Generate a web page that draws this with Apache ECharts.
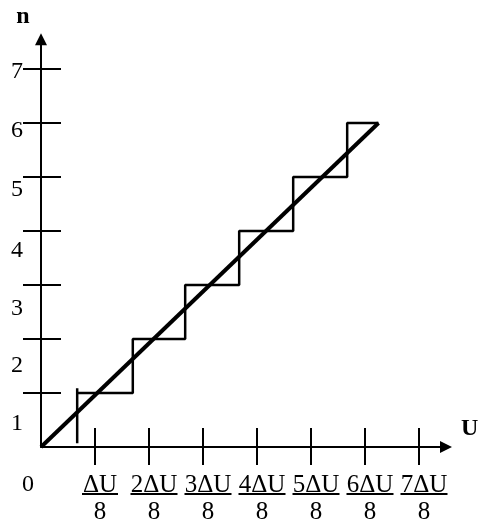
<!DOCTYPE html>
<html>
<head>
<meta charset="utf-8">
<script src="https://cdn.jsdelivr.net/npm/echarts@6/dist/echarts.min.js"></script>
<style>
  html, body { margin: 0; padding: 0; background: #fff; }
  #chart { width: 478px; height: 527px; }
</style>
</head>
<body>
<div id="chart"></div>
<script>
// Axis ticks and their labels
const uTicks = [1, 2, 3, 4, 5, 6, 7];
const uNumerators = ['ΔU', '2ΔU', '3ΔU', '4ΔU', '5ΔU', '6ΔU', '7ΔU'];
const uDenominator = '8';
const nTicks = [1, 2, 3, 4, 5, 6, 7];
const nLabels = ['1', '2', '3', '4', '5', '6', '7'];

// Quantizer staircase: U value where n steps up, and the level reached
const riseAt = [0.67, 1.70, 2.67, 3.67, 4.67, 5.67];
const levels = [1, 2, 3, 4, 5, 6];
const stairEnd = 6.25;
const firstRiser = [0.07, 1.09];

// Ideal linear characteristic
const lineStart = [0, 0];
const lineEnd = [6.25, 6];

const FONT = 'Liberation Serif';
const INK = '#000';

// build staircase polyline
const stairs = [];
levels.forEach((n, i) => {
  const x0 = riseAt[i];
  const x1 = i + 1 < riseAt.length ? riseAt[i + 1] : stairEnd;
  stairs.push([x0, n], [x1, n]);
});

// vertical drift of the n labels below their ticks (px)
const nShift = { 1: 31, 2: 27, 3: 24, 4: 20, 5: 13, 6: 8, 7: 3 };
const nRich = {};
nTicks.forEach(v => {
  nRich['y' + v] = { fontFamily: FONT, fontSize: 24, color: INK, padding: [2 * nShift[v], 0, 0, 0] };
});

const uRich = {
  n: { fontFamily: FONT, fontSize: 25, color: INK, lineHeight: 16 },
  b1: { width: 36, height: 2, lineHeight: 2, fontSize: 1, backgroundColor: INK },
  b2: { width: 47, height: 2, lineHeight: 2, fontSize: 1, backgroundColor: INK },
  d: { fontFamily: FONT, fontSize: 25, color: INK, lineHeight: 34 },
  z: { fontFamily: FONT, fontSize: 24, color: INK, lineHeight: 16, padding: [0, 36, 0, 0] }
};

const X_MAX = 7.5, Y_MAX = 7.55;

const chart = echarts.init(document.getElementById('chart'), null, { renderer: 'canvas' });
chart.setOption({
  animation: false,
  backgroundColor: '#fff',
  grid: { left: 41, right: 478 - 41 - X_MAX * 54, top: 447 - Y_MAX * 54, bottom: 80, outerBoundsMode: 'none' },
  xAxis: [
    {
      type: 'value', min: 0, max: X_MAX, interval: 1, position: 'bottom',
      axisLine: { show: true, lineStyle: { color: INK, width: 2 }, symbol: ['none', 'triangle'], symbolSize: [12, 12] },
      axisTick: { show: true, inside: false, length: 18, lineStyle: { color: INK, width: 2 }, customValues: uTicks },
      axisLabel: {
        show: true, margin: 30, padding: [0, 0, 0, 10], customValues: [0].concat(uTicks),
        formatter: v => {
          if (v === 0) return '{z|0}';
          const i = uTicks.indexOf(v);
          return '{n|' + uNumerators[i] + '}\n{' + (v === 1 ? 'b1' : 'b2') + '| }\n{d|' + uDenominator + '}';
        },
        rich: uRich
      },
      splitLine: { show: false },
      name: '{u|U}', nameLocation: 'end', nameGap: 15,
      nameTextStyle: {
        rich: { u: { fontFamily: FONT, fontSize: 24, fontWeight: 'bold', color: INK, padding: [0, 0, 36, 0] } }
      }
    },
    {
      type: 'value', min: 0, max: X_MAX, interval: 1, position: 'bottom', offset: 0,
      axisLine: { show: false },
      axisTick: { show: true, inside: true, length: 19, lineStyle: { color: INK, width: 2 }, customValues: uTicks },
      axisLabel: { show: false },
      splitLine: { show: false }
    }
  ],
  yAxis: [
    {
      type: 'value', min: 0, max: Y_MAX, interval: 1, position: 'left',
      axisLine: { show: true, lineStyle: { color: INK, width: 2 }, symbol: ['none', 'triangle'], symbolSize: [12, 12] },
      axisTick: { show: true, inside: false, length: 18, lineStyle: { color: INK, width: 2 }, customValues: nTicks },
      axisLabel: {
        show: true, margin: 18, customValues: nTicks,
        formatter: v => '{y' + v + '|' + nLabels[nTicks.indexOf(v)] + '}',
        rich: nRich
      },
      splitLine: { show: false },
      name: 'n', nameLocation: 'end', nameGap: 11,
      nameTextStyle: { fontFamily: FONT, fontSize: 24, fontWeight: 'bold', color: INK, padding: [0, 36, 0, 0] }
    },
    {
      type: 'value', min: 0, max: Y_MAX, interval: 1, position: 'left', offset: 0,
      axisLine: { show: false },
      axisTick: { show: true, inside: true, length: 20, lineStyle: { color: INK, width: 2 }, customValues: nTicks },
      axisLabel: { show: false },
      splitLine: { show: false }
    }
  ],
  series: [
    {
      type: 'line', xAxisIndex: 0, yAxisIndex: 0, symbol: 'none', silent: true,
      data: stairs,
      lineStyle: { color: INK, width: 2.5 }
    },
    {
      type: 'line', xAxisIndex: 0, yAxisIndex: 0, symbol: 'none', silent: true,
      data: [[riseAt[0], firstRiser[0]], [riseAt[0], firstRiser[1]]],
      lineStyle: { color: INK, width: 2.5 }
    },
    {
      type: 'line', xAxisIndex: 0, yAxisIndex: 0, symbol: 'none', silent: true,
      data: [lineStart, lineEnd],
      lineStyle: { color: INK, width: 4 }
    }
  ]
});
</script>
</body>
</html>
